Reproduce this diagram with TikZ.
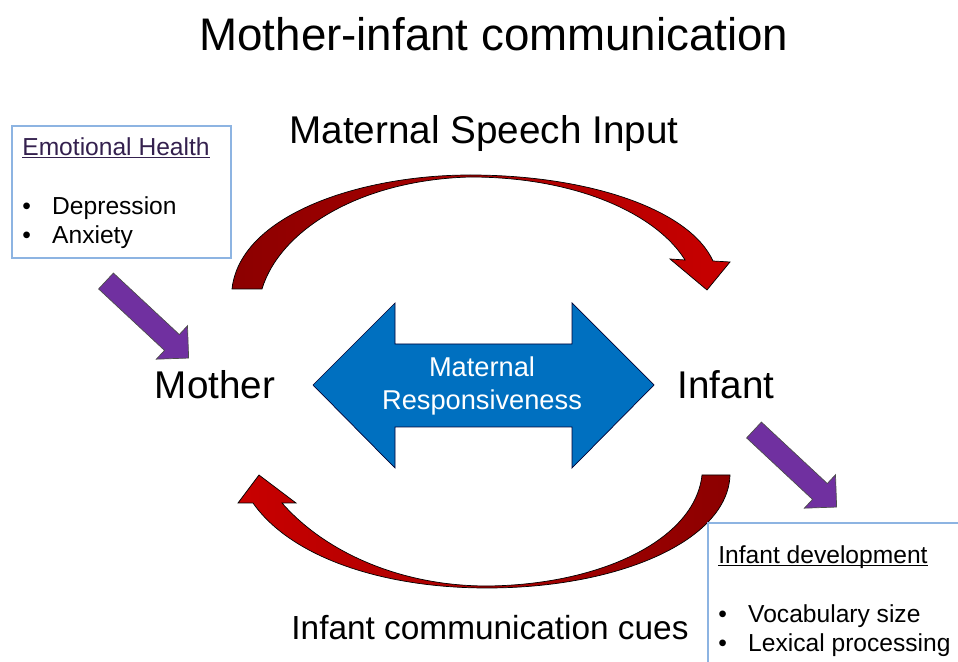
\documentclass[tikz,border=0pt]{standalone}
\usepackage{fontspec}
\setmainfont{Liberation Sans}
\usetikzlibrary{shapes.arrows}

\definecolor{arrowdark}{RGB}{140,0,0}
\definecolor{arrowred}{RGB}{200,0,0}
\definecolor{respblue}{RGB}{0,112,192}
\definecolor{arrowpurple}{RGB}{112,48,160}
\definecolor{boxblue}{RGB}{141,180,226}
\definecolor{emotitle}{RGB}{52,32,78}

\newcommand{\boxtitle}[1]{\underline{\raisebox{0pt}[\height][0pt]{#1}}}
\newcommand{\bulletitem}{\makebox[17pt][l]{\textbullet}}

\begin{document}
\begin{tikzpicture}[x=0.02cm,y=-0.02cm,
  biglabel/.style={anchor=base,inner sep=0pt,font=\fontsize{22}{26}\selectfont},
  infobox/.style={draw=boxblue,line width=0.8pt,anchor=north west,inner sep=0pt,outer sep=0pt},
  infotext/.style={anchor=north west,inner sep=0pt,align=left,font=\fontsize{14}{16.5}\selectfont},
  purplearrow/.style={single arrow,draw=black!70,line width=0.4pt,fill=arrowpurple,
    rotate=-43,anchor=tail,outer sep=0pt,inner sep=0.21cm,minimum height=2.26cm,
    single arrow head extend=0.24cm},
  curvearrow/.style={draw=black,line width=0.4pt}]
  \clip (0,0) rectangle (958,662);

  \node[anchor=base,inner sep=0pt,font=\fontsize{26}{30}\selectfont] (title) at (494,51) {Mother-infant communication};

  % curved arrows
  \draw[curvearrow,left color=arrowdark,right color=arrowred]
    (232,289) .. controls (240,215) and (360,175) .. (470,175)
    .. controls (590,175) and (690,210) .. (713,261)
    -- (730,262) -- (707,290) -- (670,259) -- (685,260)
    .. controls (658,216) and (580,177) .. (470,177)
    .. controls (360,180) and (280,230) .. (262,289) -- cycle;
  \draw[curvearrow,left color=arrowred,right color=arrowdark]
    (730,475) .. controls (728,540) and (620,588) .. (487,588)
    .. controls (380,588) and (290,556) .. (253,503)
    -- (238,503) -- (259,475) -- (296,503) -- (282,503)
    .. controls (325,552) and (400,586) .. (487,586)
    .. controls (600,585) and (695,540) .. (702,475) -- cycle;

  \node[biglabel] (speech) at (484,144) {Maternal Speech Input};
  \node[biglabel,font=\fontsize{19}{23}\selectfont] (cues) at (490,640) {Infant communication cues};
  \node[biglabel] (mother) at (215,399) {Mother};
  \node[biglabel] (infant) at (726,399) {Infant};

  % responsiveness
  \draw[fill=respblue,draw=black!80!blue,line width=0.4pt]
    (313,385) -- (395,303) -- (395,344) -- (572,344) -- (572,303) -- (654,385)
    -- (572,468) -- (572,427) -- (395,427) -- (395,468) -- cycle;
  \node[align=center,text=white,inner sep=0pt,font=\fontsize{15.5}{18.7}\selectfont] (resp) at (482,386) {Maternal\\Responsiveness};

  % boxes
  \node[infobox,minimum width=4.38cm,minimum height=2.64cm] (emobox) at (12,126) {};
  \node[infotext] (emotext) at (22,137) {\textcolor{emotitle}{\boxtitle{Emotional Health}}\\[17pt]
    \bulletitem Depression\\\bulletitem Anxiety};
  \node[infobox,minimum width=6cm,minimum height=3.6cm] (devbox) at (708,523) {};
  \node[infotext] (devtext) at (718,545) {\boxtitle{Infant development}\\[17pt]
    \bulletitem Vocabulary size\\\bulletitem Lexical processing};

  \node[purplearrow] (emoarrow) at (106,281) {};
  \node[purplearrow] (devarrow) at (754,430) {};

\end{tikzpicture}
\end{document}
